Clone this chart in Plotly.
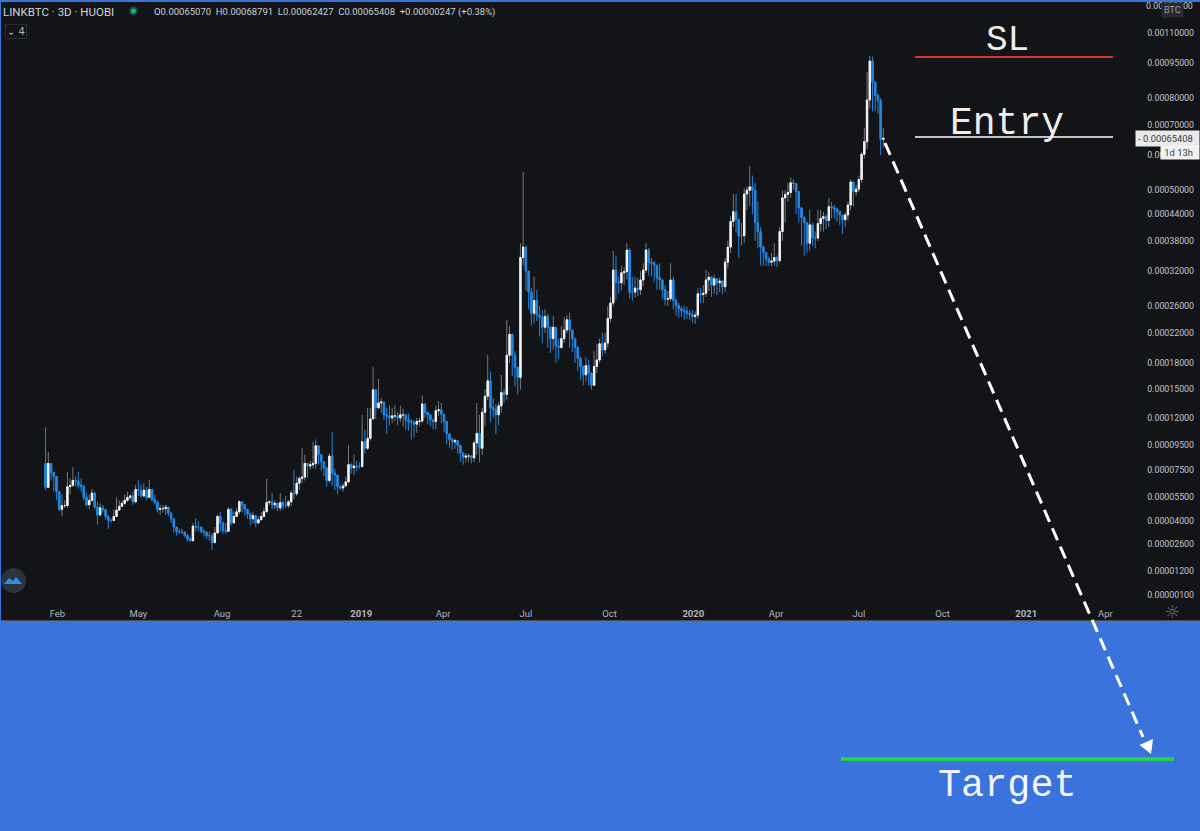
import plotly.graph_objects as go
import pandas as pd

# Prices in units of 0.00001 BTC, one value per 3-day candle
first_open = 8.0
closes = [
 6.2,8.0,7.3,7.0,5.9,4.7,4.95,4.95,6.25,6.35,6.7,6.65,6.35,6.25,5.5,5.0,5.3,5.8,4.85,4.35,
 4.8,4.7,4.25,4.0,4.0,4.25,4.65,4.9,5.1,5.3,5.5,5.6,5.2,6.05,6.0,5.6,6.0,5.5,6.05,5.35,
 5.15,4.7,4.75,4.75,4.85,4.45,4.1,3.6,3.35,3.3,3.3,3.1,2.9,2.8,3.65,3.6,3.6,3.35,3.3,3.1,
 3.1,2.7,3.25,4.25,
 3.85,3.4,3.35,4.7,3.85,4.25,4.55,5.2,5.0,4.7,4.4,4.1,4.3,3.85,4.05,4.25,4.55,5.15,5.2,5.0,
 5.1,4.8,5.15,4.95,4.95,5.2,5.8,5.75,6.5,6.85,6.95,8.0,7.8,7.9,8.0,9.45,8.7,8.15,7.65,6.7,
 8.6,7.25,7.1,6.25,6.15,6.3,6.6,7.9,7.65,7.8,7.75,7.75,9.8,9.25,10.1,11.9,14.9,13.0,13.5,13.6,
 12.3,12.2,
 12.0,12.2,12.2,12.0,12.3,12.3,11.8,11.65,11.55,11.4,11.65,11.7,13.4,12.55,12.3,11.8,11.65,12.7,12.8,12.35,
 11.65,10.5,10.0,9.8,9.9,9.5,8.85,8.5,8.6,8.6,8.45,9.7,10.55,9.25,12.55,14.2,15.9,13.0,12.85,12.3,
 13.2,14.6,14.4,19.0,21.8,19.0,17.5,16.3,
 34.6,36.7,32.0,28.3,24.9,26.9,24.6,24.3,22.8,24.4,22.8,21.2,22.8,20.2,20.0,21.2,22.4,23.9,22.4,21.2,
 20.0,18.6,17.6,16.6,17.7,16.8,15.4,17.6,18.4,20.5,19.7,20.6,24.1,26.5,32.2,30.0,29.9,31.7,31.9,36.1,
 28.3,28.3,29.0,28.7,30.4,32.2,36.1,33.7,33.5,33.1,30.8,30.4,28.7,27.1,27.2,30.4,26.9,26.1,25.6,25.3,
 25.2,24.9,24.7,24.4,24.6,28.0,27.9,28.1,30.4,30.9,29.5,30.6,29.9,30.2,29.2,33.7,
 36.7,42.3,44.6,42.7,39.1,39.1,49.0,50.0,50.9,50.0,42.0,40.0,36.7,35.6,34.3,33.7,33.9,34.6,34.0,40.0,
 48.0,48.9,49.4,52.0,51.8,49.6,45.5,43.1,42.0,37.5,41.5,38.6,38.6,41.8,43.0,43.4,42.5,45.8,45.5,45.2,
 44.7,43.8,42.7,43.8,46.2,52.2,49.6,50.3,52.9,60.3,64.3,79.3,96.0,86.6,81.0,79.0,65.07,65.408,
]
highs = [
 11.1,8.95,7.7,7.1,6.4,5.8,5.7,5.3,7.35,6.85,7.7,7.0,7.35,6.85,6.4,5.8,5.7,6.1,5.9,5.2,
 5.1,5.0,4.7,4.35,4.15,4.7,5.5,5.3,5.3,5.7,5.9,5.7,5.9,6.4,6.7,6.4,6.5,6.25,6.75,6.0,
 5.7,5.3,5.0,5.0,5.0,4.8,4.5,3.95,3.6,3.5,3.5,3.35,3.2,3.0,3.85,4.15,3.95,3.6,3.5,3.35,
 3.35,3.25,3.6,4.35,
 4.55,3.9,3.85,4.85,4.8,4.55,4.8,5.3,5.15,4.85,4.7,4.5,4.55,4.35,4.25,4.5,4.8,6.8,5.3,5.8,
 5.3,5.0,5.8,5.3,5.6,5.3,6.0,7.5,7.0,7.0,9.25,8.7,8.0,8.2,9.8,10.0,9.3,8.5,8.0,7.7,
 8.8,10.7,7.6,6.7,6.4,6.5,7.0,9.5,8.0,8.7,8.2,8.1,12.3,10.9,13.0,13.0,17.5,15.0,16.1,14.0,
 13.6,13.0,
 13.3,13.0,13.3,12.6,13.2,12.9,12.3,12.4,11.9,11.8,12.0,12.0,14.3,13.0,12.6,12.0,11.9,13.2,13.7,13.5,
 12.2,11.3,10.5,10.2,10.1,9.9,9.4,8.9,8.8,8.8,8.6,9.9,13.5,12.3,13.0,15.0,19.0,17.0,14.0,13.4,
 13.6,16.6,15.0,23.9,23.0,21.8,19.5,17.5,
 37.5,55.0,37.0,32.0,29.0,31.0,28.7,26.0,25.4,25.5,24.8,23.0,24.5,22.8,21.2,23.0,24.3,24.6,25.0,22.5,
 21.0,20.2,18.8,17.2,18.7,18.4,16.8,19.5,20.5,21.2,22.0,22.0,26.0,27.5,35.9,35.0,31.0,33.0,32.7,37.5,
 36.5,31.0,31.0,30.8,32.0,33.5,37.5,36.5,34.5,34.0,32.5,33.5,30.5,29.5,28.5,33.5,31.0,27.3,26.5,26.0,
 26.1,25.9,25.4,25.4,25.2,29.0,29.0,29.5,32.2,31.9,31.0,31.4,30.8,30.8,30.4,34.5,
 38.0,43.5,49.0,49.0,43.0,42.0,50.5,51.0,56.7,54.0,52.0,47.0,41.0,37.0,35.5,34.8,35.5,37.5,35.0,41.0,
 50.0,50.0,52.0,53.5,53.0,51.0,49.5,45.0,43.5,42.0,45.0,42.0,40.0,45.0,45.0,44.5,44.0,48.0,47.0,46.2,
 45.6,44.5,43.5,44.5,47.0,53.0,52.5,51.4,54.0,61.0,69.0,91.0,98.5,98.0,85.0,82.0,80.0,68.791,
]
lows = [
 6.0,7.0,6.7,5.9,5.3,4.6,4.25,4.8,4.8,5.7,6.25,6.25,6.1,5.9,5.3,4.9,4.7,5.2,4.7,3.75,
 4.25,4.5,4.05,3.5,3.85,3.95,4.25,4.6,4.9,5.0,5.2,5.3,5.0,5.1,5.6,5.45,5.5,5.3,5.45,5.2,
 5.0,4.5,4.35,4.5,4.35,4.25,3.85,3.25,3.1,3.2,3.2,3.0,2.75,2.75,2.8,3.35,3.35,3.2,3.05,2.9,
 2.8,2.3,2.8,3.2,
 3.3,3.2,3.2,4.0,3.7,4.0,4.3,4.4,4.5,4.3,4.1,3.7,3.8,3.6,3.8,4.0,4.3,4.9,5.0,4.7,
 4.7,4.6,4.6,4.7,4.8,4.8,4.9,5.4,5.6,6.0,6.5,6.7,6.9,7.5,7.6,7.6,7.9,7.4,7.0,6.25,
 6.5,6.3,6.0,5.7,6.0,5.9,6.3,6.5,7.2,7.1,7.4,7.6,7.7,8.8,9.1,9.9,11.9,11.9,12.9,12.5,
 11.8,10.5,
 11.3,11.5,11.7,11.3,11.6,11.2,10.9,10.8,10.0,10.2,10.6,11.2,11.5,12.0,11.4,11.2,10.9,10.9,12.2,11.5,
 10.7,9.6,9.3,9.1,9.2,8.8,8.1,7.9,8.1,8.1,8.0,8.1,8.7,8.1,8.7,11.2,13.8,11.6,12.0,10.5,
 11.3,12.5,13.5,13.8,18.0,16.5,15.3,14.4,
 14.9,33.0,28.5,25.5,23.0,23.3,23.7,21.5,20.6,22.0,20.0,19.3,19.7,18.0,18.5,19.8,20.6,22.0,20.0,19.4,
 18.0,17.0,16.0,15.4,15.8,15.4,14.9,15.5,16.8,18.0,18.8,19.2,20.0,23.5,26.0,27.0,28.0,28.6,29.5,30.5,
 27.2,26.9,27.4,27.6,27.8,29.3,31.7,31.2,31.0,30.0,28.7,28.7,27.2,26.1,26.0,26.8,25.5,24.5,24.2,24.3,
 23.9,24.0,23.9,23.5,23.3,24.0,26.5,26.5,27.5,28.5,27.5,28.0,27.8,28.3,28.0,28.4,
 32.5,35.5,41.0,39.8,34.5,37.0,37.5,45.0,46.0,44.0,38.0,36.5,33.0,33.0,33.0,33.0,32.9,33.0,32.8,33.6,
 38.0,42.0,47.0,48.0,50.0,44.0,42.0,37.0,35.0,35.5,36.0,37.0,36.5,38.0,40.0,40.0,40.5,41.0,43.0,43.0,
 42.3,41.5,39.5,41.0,42.5,45.0,45.8,48.5,49.5,52.0,59.0,62.0,76.0,75.0,75.0,74.0,60.0,62.427,
]
assert len(closes) == len(highs) == len(lows), (len(closes), len(highs), len(lows))

start_date = "2018-01-19"
price_ticks = [0.0011, 0.00095, 0.0008, 0.0007, 0.0006, 0.0005, 0.00044, 0.00038, 0.00032,
               0.00026, 0.00022, 0.00018, 0.00015, 0.00012, 0.000095, 0.000075, 0.000055, 0.00004,
               0.000026, 0.000012, 0.000001]
date_ticks = ["2018-02-01", "2018-05-01", "2018-08-01", "2018-10-22", "2019-01-01", "2019-04-01", "2019-07-01",
              "2019-10-01", "2020-01-01", "2020-04-01", "2020-07-01", "2020-10-01", "2021-01-01", "2021-03-29"]
date_labels = ["Feb", "May", "Aug", "22", "<b>2019</b>", "Apr", "Jul", "Oct", "<b>2020</b>", "Apr", "Jul", "Oct",
               "<b>2021</b>", "Apr"]

# Shift used by the chart's compressed log price scale
SCALE_SHIFT = 0.0001
UNIT = 0.00001

W, H = 1200, 831
L, T, R, B = 1, 2, 0, 211
PW, PH = W - L - R, H - T - B
def px(x): return (x - L) / PW
def py(y): return 1 - (y - T) / PH

opens = [first_open] + closes[:-1]
dates = pd.date_range(start_date, periods=len(closes), freq="3D")
sh = lambda v: [a * UNIT + SCALE_SHIFT for a in v]
body_hi = [max(a, b) for a, b in zip(opens, closes)]
body_lo = [min(a, b) for a, b in zip(opens, closes)]

UP, DOWN, UPW = "#f4f5f6", "#2187e0", "#77787c"
fig = go.Figure()
fig.add_trace(go.Candlestick(
    x=dates, open=sh(opens), close=sh(closes), high=sh(highs), low=sh(lows), hoverinfo="skip",
    increasing=dict(line=dict(color=UPW, width=1), fillcolor=UPW),
    decreasing=dict(line=dict(color=DOWN, width=1), fillcolor=DOWN)))
fig.add_trace(go.Candlestick(
    x=dates, open=sh(opens), close=sh(closes), high=sh(body_hi), low=sh(body_lo), hoverinfo="skip",
    increasing=dict(line=dict(color=UP, width=1), fillcolor=UP),
    decreasing=dict(line=dict(color=DOWN, width=1), fillcolor=DOWN)))

shapes = []
def line(x0, y0, x1, y1, color, width, dash=None):
    shapes.append(dict(type="line", xref="paper", yref="paper", x0=px(x0), y0=py(y0), x1=px(x1), y1=py(y1),
                       line=dict(color=color, width=width, dash=dash), layer="above"))
line(915, 57, 1113, 57, "#cf3a2c", 1.8)
line(915, 137, 1113, 137, "#ffffff", 1.6)
line(841, 759, 1174, 759, "#24dc3c", 3.5)
line(885, 143, 1143, 737, "#ffffff", 3, "13px,7px")
head = [(1151, 754), (1139.5, 745), (1153, 739)]
shapes.append(dict(type="path", xref="paper", yref="paper", fillcolor="#ffffff", line=dict(width=0), layer="above",
                   path="M " + " L ".join(f"{px(a)},{py(b)}" for a, b in head) + " Z"))
# logo: circle and little mountains
shapes.append(dict(type="circle", xref="paper", yref="paper", x0=px(1), y0=py(568), x1=px(26), y1=py(593),
                   fillcolor="#2b3340", line=dict(width=0), layer="above"))
logo = [(4, 584), (9, 578), (13, 581), (16, 577), (22, 584)]
shapes.append(dict(type="path", xref="paper", yref="paper", fillcolor="#2c8fe0", line=dict(width=0), layer="above",
                   path="M " + " L ".join(f"{px(a)},{py(b)}" for a, b in logo) + " Z"))
# live dot
shapes.append(dict(type="circle", xref="paper", yref="paper", x0=px(130), y0=py(14.5), x1=px(137), y1=py(7.5),
                   fillcolor="#1fae8f", line=dict(color="#124a44", width=2), layer="above"))

anns = []
def text(x, y, s, size, color, family="Roboto", anchor="left", **kw):
    anns.append(dict(xref="paper", yref="paper", x=px(x), y=py(y), text=s, showarrow=False, xanchor=anchor,
                     yanchor="middle", font=dict(size=size, color=color, family=family), **kw))
text(1, 12, "LINKBTC · 3D · HUOBI", 11.5, "#d1d4dc")
text(152, 12, "O0.00065070  H0.00068791  L0.00062427  C0.00065408  +0.00000247 (+0.38%)", 9.5, "#cdd0d6")
text(5, 31, "⌄ 4", 10, "#b2b5be", family="DejaVu Sans", bordercolor="#2a2c31", borderwidth=1, borderpad=1)
MONO = "Liberation Mono"
text(1008, 41, "SL", 36, "#eeeeee", MONO, "center")
text(1007, 123, "Entry", 38, "#eeeeee", MONO, "center")
text(1008, 786, "Target", 38.5, "#f2f5ff", MONO, "center")
text(1195, 6, "0.00125000", 8.8, "#c3c5cb", anchor="right")
text(1172, 10, "BTC", 9, "#9a9da6", anchor="center", bgcolor="#262a33", borderpad=2)
text(1200, 138, "- 0.00065408  ", 9.4, "#3a3d44", anchor="right", bgcolor="#e9e9e9", borderpad=2)
text(1200, 152, " 1d 13h  ", 9.4, "#3a3d44", anchor="right", bgcolor="#f1f1f1", borderpad=1)
text(1172, 611, "☼", 18, "#70737c", "DejaVu Sans", "center")

fig.update_layout(
    width=W, height=H, margin=dict(l=L, r=R, t=T, b=B), autosize=False,
    paper_bgcolor="#3a73db", plot_bgcolor="#131417", showlegend=False, hovermode=False,
    shapes=shapes, annotations=anns, font=dict(family="Roboto", color="#b2b5be"),
    xaxis=dict(range=["2017-12-01", "2021-07-11"], rangeslider=dict(visible=False), showgrid=False, zeroline=False,
               tickmode="array", tickvals=date_ticks, ticktext=date_labels, ticks="",
               ticklabelposition="inside", tickfont=dict(size=9.5, color="#b2b5be"), tickangle=0,
               showline=True, linecolor="#4a4c52", linewidth=1),
    yaxis=dict(type="log", range=[-4.0443, -2.8617], side="right", showgrid=False, zeroline=False, ticks="",
               tickmode="array", tickvals=[t + SCALE_SHIFT for t in price_ticks],
               ticktext=[f"{t:.8f}" for t in price_ticks],
               ticklabelposition="inside", ticklabelstandoff=3, tickfont=dict(size=8.8, color="#c3c5cb")),
)
fig.write_html("out.html", config=dict(displayModeBar=False),
               post_script="document.body.style.margin='0';document.body.style.overflow='hidden';")
